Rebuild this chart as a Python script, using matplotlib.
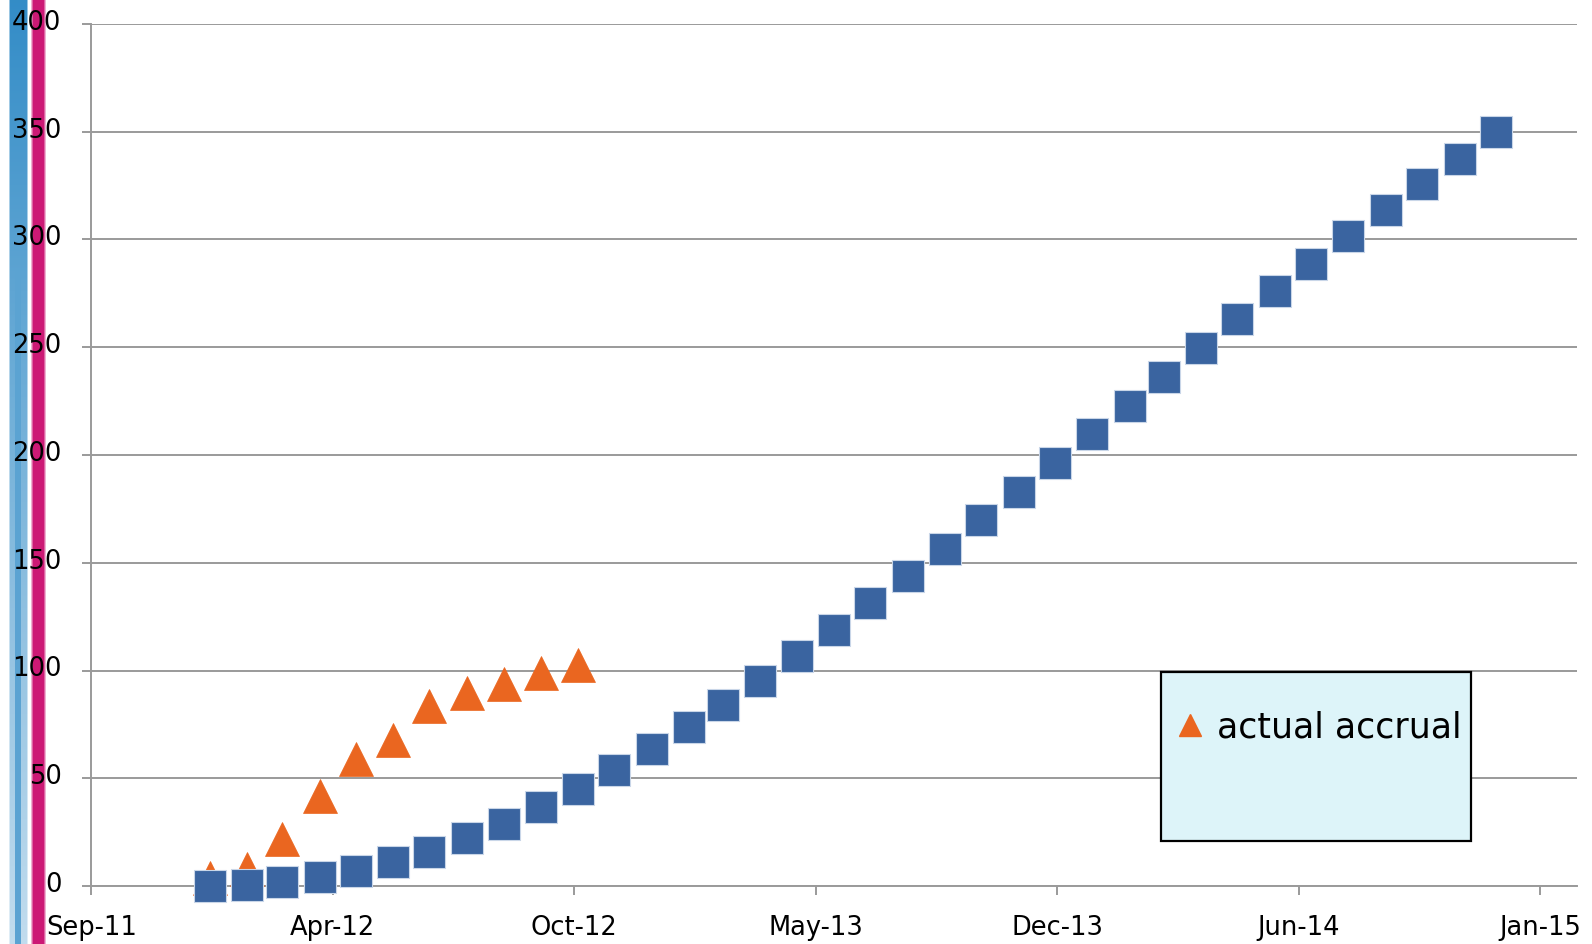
import matplotlib
matplotlib.use('Agg')
import numpy as np
import pandas as pd
import matplotlib.pyplot as plt
import matplotlib.dates as mdates
from matplotlib.patches import Rectangle
from matplotlib.lines import Line2D
from matplotlib.transforms import ScaledTranslation

# projected accrual, monthly from Jan-2012
projected_start = '2012-01-01'
projected = [0, 0.5, 2, 4, 7, 11, 16, 22.3, 29, 36.7, 45, 53.8,
             63.4, 73.6, 84.1, 95.3, 106.9, 118.8, 131.2, 143.9, 156.5, 169.7, 182.8, 196.1,
             209.6, 222.9, 236.3, 249.7, 263, 276.1, 288.8, 301.5, 313.7, 325.8, 337.4, 350]

# actual accrual, monthly from Jan-2012
actual_start = '2012-01-01'
actual = [3.5, 7.7, 21.7, 41.8, 58.8, 67.7, 83.7, 89.7, 93.7, 98.7, 102.7]

tick_start = '2011-09-25'
tick_step_days = 200
tick_labels = ['Sep-11', 'Apr-12', 'Oct-12', 'May-13', 'Dec-13', 'Jun-14', 'Jan-15']
y_ticks = [0, 50, 100, 150, 200, 250, 300, 350, 400]

proj_x = pd.date_range(projected_start, periods=len(projected), freq='MS')
act_x = pd.date_range(actual_start, periods=len(actual), freq='MS')
tick_x = [pd.Timestamp(tick_start) + pd.Timedelta(days=tick_step_days * i) for i in range(len(tick_labels))]

W, H = 1592, 944
fig = plt.figure(figsize=(W / 100, H / 100), dpi=100)
fig.patch.set_facecolor('white')

# decorative stripe on the left edge
sw = 56
img = np.ones((H, sw, 3))
cols = np.arange(sw)
rows = np.linspace(0, 1, H)[:, None]
def band(c, lo, hi, soft):
    a = np.clip((c - lo) / soft + 1, 0, 1) * np.clip((hi - c) / soft + 1, 0, 1)
    return a
blue_core = band(cols, 15, 20, 1.5)[None, :]
blue_outer = band(cols, 10, 26, 2.0)[None, :] * (1 - 0.7 * rows)
blue_a = np.clip(np.maximum(blue_core * 0.8, blue_outer), 0, 1)
pink_a = band(cols, 33, 43, 3.0)[None, :] * np.ones_like(rows)
blue = np.array([0.20, 0.55, 0.78])
pink = np.array([0.80, 0.10, 0.46])
img = img * (1 - blue_a[..., None]) + blue * blue_a[..., None]
img = img * (1 - pink_a[..., None]) + pink * pink_a[..., None]
sax = fig.add_axes([0, 0, sw / W, 1])
sax.imshow(img, aspect='auto', interpolation='bilinear')
sax.axis('off')

ax = fig.add_axes([91.3 / W, 1 - 886 / H, (1576.7 - 91.3) / W, (886 - 24) / H])
ax.patch.set_alpha(0)

grid_c = '#9a9a9a'
ax.set_ylim(0, 400)
ax.set_yticks(y_ticks)
ax.grid(axis='y', color=grid_c, lw=1.4)
ax.set_axisbelow(True)
ax.set_xlim(mdates.date2num(pd.Timestamp(tick_start)),
            mdates.date2num(pd.Timestamp(tick_start) + pd.Timedelta(days=1230)))
ax.set_xticks(mdates.date2num(tick_x))
ax.set_xticklabels(tick_labels)

for s in ['top', 'right']:
    ax.spines[s].set_visible(False)
for s in ['left', 'bottom']:
    ax.spines[s].set_color(grid_c)
    ax.spines[s].set_linewidth(1.4)
ax.tick_params(axis='y', direction='out', length=6.5, width=1.4, color=grid_c, labelsize=18.5, pad=15)
ax.tick_params(axis='x', direction='out', length=6.5, width=1.4, color=grid_c, labelsize=18.5, pad=14.5)
for lab in ax.get_yticklabels():
    lab.set_transform(lab.get_transform() + ScaledTranslation(0, 3 / 72, fig.dpi_scale_trans))

ax.plot(mdates.date2num(act_x), actual, linestyle='none', marker='^', ms=24,
        color='#ea6620', mec='#ea6620', mew=0.5, clip_on=False, zorder=3, label='actual accrual')
ax.plot(mdates.date2num(proj_x), projected, linestyle='none', marker='s', ms=23.5,
        color='#3a64a0', mec='#c9d6e8', mew=0.8, clip_on=False, zorder=4)

# legend box
ax.add_patch(Rectangle((0.7201, 0.0522), 0.9289 - 0.7201, 0.2486 - 0.0522, transform=ax.transAxes,
                       facecolor='#ddf4f9', edgecolor='black', lw=1.6, zorder=5))
handle = Line2D([], [], linestyle='none', marker='^', ms=16, color='#ea6620')
leg = ax.legend(handles=[handle], labels=['actual accrual'], loc='upper left',
                bbox_to_anchor=(0.731, 0.204), frameon=False, fontsize=25,
                borderpad=0, borderaxespad=0, handlelength=0.75, handletextpad=0.4)
leg.set_zorder(6)

fig.savefig('out.png', dpi=100)
